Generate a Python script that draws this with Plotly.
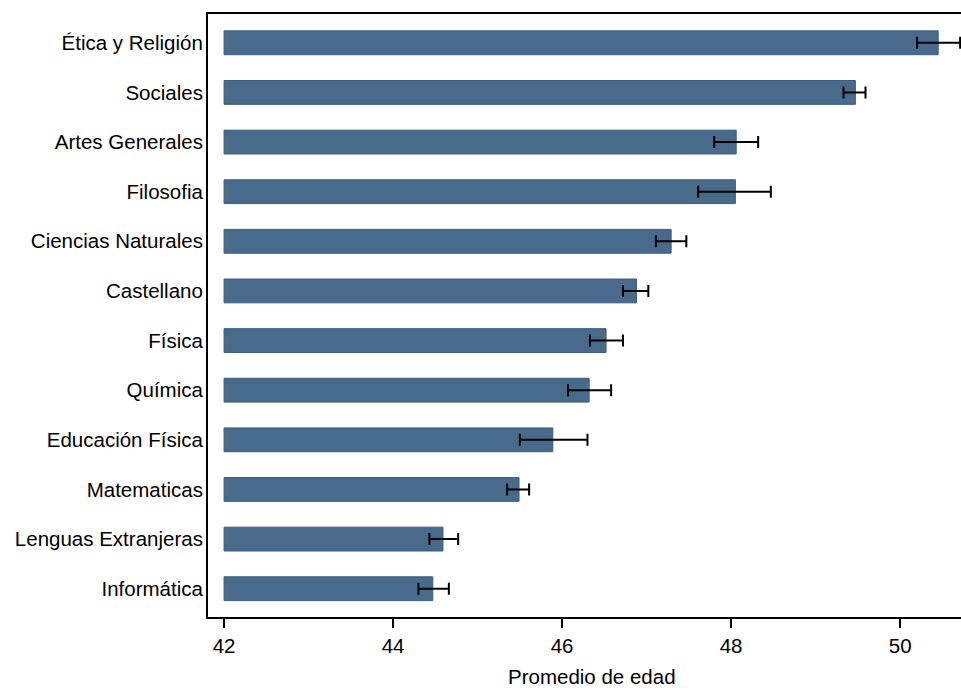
import plotly.graph_objects as go

categories = ["Ética y Religión", "Sociales", "Artes Generales", "Filosofia",
              "Ciencias Naturales", "Castellano", "Física", "Química",
              "Educación Física", "Matematicas", "Lenguas Extranjeras", "Informática"]
means = [50.45, 49.47, 48.06, 48.05, 47.29, 46.88, 46.52, 46.32, 45.89, 45.49, 44.59, 44.47]
ci_low = [50.20, 49.33, 47.80, 47.61, 47.11, 46.72, 46.33, 46.07, 45.50, 45.35, 44.43, 44.30]
ci_high = [50.71, 49.59, 48.32, 48.47, 47.47, 47.02, 46.72, 46.58, 46.30, 45.61, 44.77, 44.66]
base_value = 42
x_ticks = [42, 44, 46, 48, 50]
x_title = "Promedio de edad"

lengths = [m - base_value for m in means]
err_plus = [h - m for h, m in zip(ci_high, means)]
err_minus = [m - l for m, l in zip(means, ci_low)]

fig = go.Figure(go.Bar(
    y=categories, x=lengths, base=base_value, orientation="h",
    width=0.48,
    marker=dict(color="#486b8c", line=dict(color="#3c5d7e", width=1)),
    error_x=dict(type="data", array=err_plus, arrayminus=err_minus,
                 color="black", thickness=2, width=6),
))

fig.update_layout(
    width=961, height=690,
    margin=dict(l=208, r=0, t=14, b=73),
    paper_bgcolor="white", plot_bgcolor="white",
    font=dict(family="Liberation Sans, Arial, sans-serif", size=20.5, color="black"),
    showlegend=False,
    annotations=[dict(text=x_title, xref="paper", yref="paper", x=0.51, y=0,
                      xanchor="center", yanchor="top", yshift=-46, showarrow=False,
                      font=dict(size=20.5))],
)
fig.update_xaxes(
    range=[41.81, 50.72], tickvals=x_ticks, ticktext=[str(t) for t in x_ticks],
    showgrid=False, zeroline=False,
    showline=True, linecolor="black", linewidth=2, mirror=True,
    ticks="outside", ticklen=9, tickwidth=2, tickcolor="black",
)
fig.update_yaxes(
    categoryorder="array", categoryarray=categories[::-1],
    range=[-0.57, 11.58],
    showgrid=False, zeroline=False,
    showline=True, linecolor="black", linewidth=2, mirror=False,
    ticks="", ticklabelstandoff=-1,
)

fig.write_html("out.html", config={"displayModeBar": False},
               post_script="document.body.style.margin='0';")
